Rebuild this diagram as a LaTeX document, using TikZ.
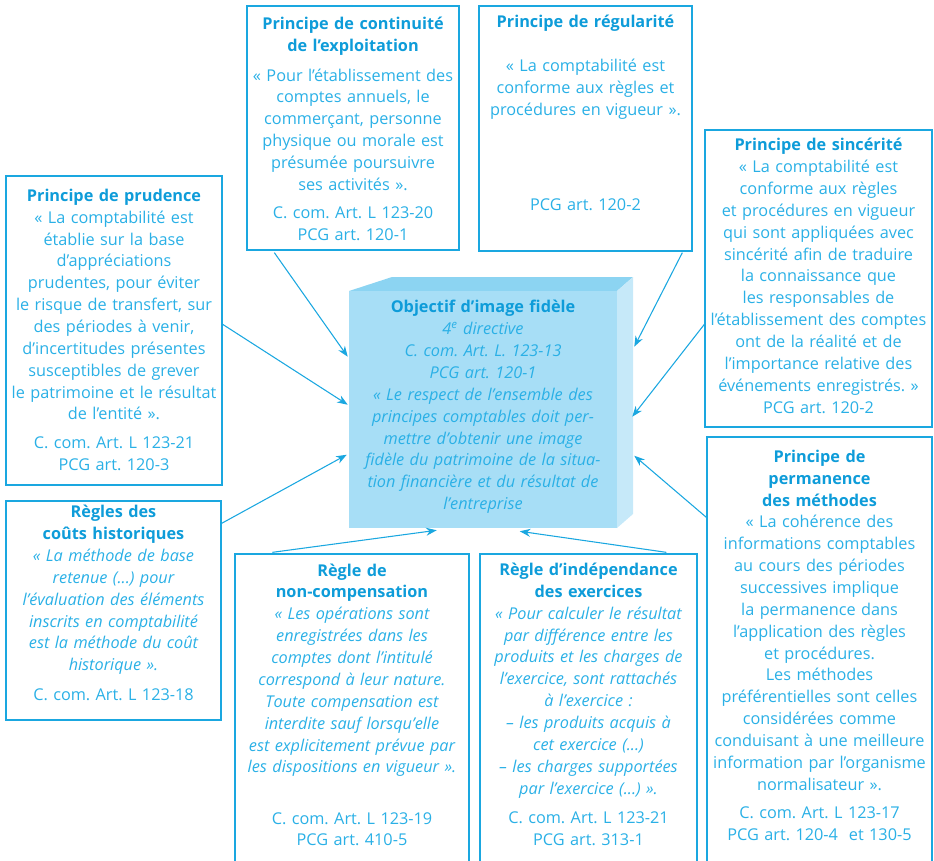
\documentclass[tikz,border=0pt]{standalone}
\usepackage{fontspec}
\setmainfont{Open Sans}
\frenchspacing
\usetikzlibrary{arrows.meta,calc,positioning,fit}
\definecolor{bleu}{HTML}{1AA7E0}
\definecolor{texte}{HTML}{2AB0E6}
\definecolor{titre}{HTML}{0E9CD9}
\definecolor{face}{HTML}{A7DEF6}
\definecolor{dessus}{HTML}{8CD4F2}
\definecolor{cote}{HTML}{C6E9F9}
\newcommand{\tit}[1]{\textcolor{titre}{\bfseries #1}}

\begin{document}
\begin{tikzpicture}[
  x=0.75pt,y=-0.75pt,
  cadre/.style={draw=bleu,line width=1pt,inner sep=0pt},
  corps/.style={text=texte,align=center,inner sep=0pt,text width=#1,
    font=\fontsize{12.2}{16.4}\selectfont},
  fleche/.style={bleu,line width=0.8pt,-{Stealth[length=8pt,width=6pt]}}
]
  \useasboundingbox (0,0) rectangle (934,860);

  \node[cadre,fit={(247,6)(459,250)}] (continuite) {};
  \node[corps=159pt,below=8.5pt of continuite.north] (continuitetxt) {%
    \tit{Principe de continuité}\\ \tit{de l’exploitation}\\[6pt]
    « Pour l’établissement des\\ comptes annuels, le\\ commerçant, personne\\
    physique ou morale est\\ présumée poursuivre\\ ses activités ».\\[5pt]
    C. com. Art. L 123-20\\ PCG art. 120-1};

  \node[cadre,fit={(479,6)(692,251)}] (regularite) {};
  \node[corps=160pt,below=7pt of regularite.north] (regularitetxt) {%
    \tit{Principe de régularité}\\[17pt]
    « La comptabilité est\\ conforme aux règles et\\ procédures en vigueur ».\\[55pt]
    PCG art. 120-2};

  \node[cadre,fit={(705,130)(932,427)}] (sincerite) {};
  \node[corps=170pt,below=6.5pt of sincerite.north] (sinceritetxt) {%
    \tit{Principe de sincérité}\\
    « La comptabilité est\\ conforme aux règles\\ et procédures en vigueur\\
    qui sont appliquées avec\\ sincérité afin de traduire\\ la connaissance que\\
    les responsables de\\ l’établissement des comptes\\ ont de la réalité et de\\
    l’importance relative des\\ événements enregistrés. »\\ PCG art. 120-2};

  \node[cadre,fit={(6,176)(222,485)}] (prudence) {};
  \node[corps=162pt,below=10pt of prudence.north] (prudencetxt) {%
    \tit{Principe de prudence}\\
    « La comptabilité est\\ établie sur la base\\ d’appréciations\\
    prudentes, pour éviter\\ le risque de transfert, sur\\ des périodes à venir,\\
    d’incertitudes présentes\\ susceptibles de grever\\ le patrimoine et le résultat\\
    de l’entité ».\\[5pt]
    C. com. Art. L 123-21\\ PCG art. 120-3};

  \node[cadre,fit={(6,501)(221,720)}] (couts) {};
  \node[corps=161pt,below=3.5pt of couts.north] (coutstxt) {%
    \tit{Règles des}\\ \tit{coûts historiques}\\
    \itshape « La méthode de base\\ retenue (...) pour\\ l’évaluation des éléments\\
    inscrits en comptabilité\\ est la méthode du coût\\ historique ».\\[6pt]
    \upshape C. com. Art. L 123-18};

  \node[cadre,fit={(235,554)(469,872)}] (compensation) {};
  \node[corps=175pt,below=7.5pt of compensation.north] (compensationtxt) {%
    \tit{Règle de}\\ \tit{non-compensation}\\
    \itshape « Les opérations sont\\ enregistrées dans les\\ comptes dont l’intitulé\\
    correspond à leur nature.\\ Toute compensation est\\ interdite sauf lorsqu’elle\\
    est explicitement prévue par\\ les dispositions en vigueur ».\\[22pt]
    \upshape C. com. Art. L 123-19\\ PCG art. 410-5};

  \node[cadre,fit={(480,554)(697,872)}] (independance) {};
  \node[corps=163pt,below=7pt of independance.north] (independancetxt) {%
    \tit{Règle d’indépendance}\\ \tit{des exercices}\\
    \itshape « Pour calculer le résultat\\ par différence entre les\\
    produits et les charges de\\ l’exercice, sont rattachés\\ à l’exercice :\\
    – les produits acquis à\\ cet exercice (...)\\ – les charges supportées\\
    par l’exercice (...) ».\\[6pt]
    \upshape C. com. Art. L 123-21\\ PCG art. 313-1};

  \node[cadre,fit={(707,437)(932,872)}] (permanence) {};
  \node[corps=169pt,below=10pt of permanence.north] (permanencetxt) {%
    \tit{Principe de}\\ \tit{permanence}\\ \tit{des méthodes}\\
    « La cohérence des\\ informations comptables\\ au cours des périodes\\
    successives implique\\ la permanence dans\\ l’application des règles\\
    et procédures.\\ Les méthodes\\ préférentielles sont celles\\
    considérées comme\\ conduisant à une meilleure\\ information par l’organisme\\
    normalisateur ».\\[5pt]
    C. com. Art. L 123-17\\ PCG art. 120-4\ \ et 130-5};

  \fill[dessus] (349,291) -- (392,277) -- (633,277) -- (617,291) -- cycle;
  \fill[cote] (617,291) -- (633,277) -- (633,514) -- (617,528) -- cycle;
  \node[fill=face,inner sep=0pt,fit={(349,291)(617,528)}] (fidele) {};
  \node[corps=200pt,below=7pt of fidele.north] (fideletxt) {%
    \tit{Objectif d’image fidèle}\\
    \itshape 4\textsuperscript{e} directive\\ C. com. Art. L. 123-13\\ PCG art. 120-1\\
    « Le respect de l’ensemble des\\ principes comptables doit per-\\
    mettre d’obtenir une image\\ fidèle du patrimoine de la situa-\\
    tion financière et du résultat de\\ l’entreprise};

  \draw[fleche] ($(continuite.south west)+(28,2)$) -- ($(fidele.north west)+(-1,66)$);
  \draw[fleche] ($(prudence.north east)+(0,149)$) -- ($(fidele.north west)+(-1,114)$);
  \draw[fleche] ($(couts.north east)+(0,23)$) -- ($(fidele.north west)+(-2,164)$);
  \draw[fleche] ($(regularite.south west)+(204,1)$) -- ($(fidele.north east)+(17,56)$);
  \draw[fleche] ($(sincerite.north west)+(0,195)$) -- ($(fidele.north east)+(15,126)$);
  \draw[fleche] ($(permanence.north west)+(0,81)$) -- ($(fidele.north east)+(17,165)$);
  \draw[fleche] ($(compensation.north west)+(38,-1)$) -- ($(fidele.south west)+(88,2)$);
  \draw[fleche] ($(independance.north west)+(187,-1)$) -- ($(fidele.south west)+(171,3)$);
\end{tikzpicture}
\end{document}
